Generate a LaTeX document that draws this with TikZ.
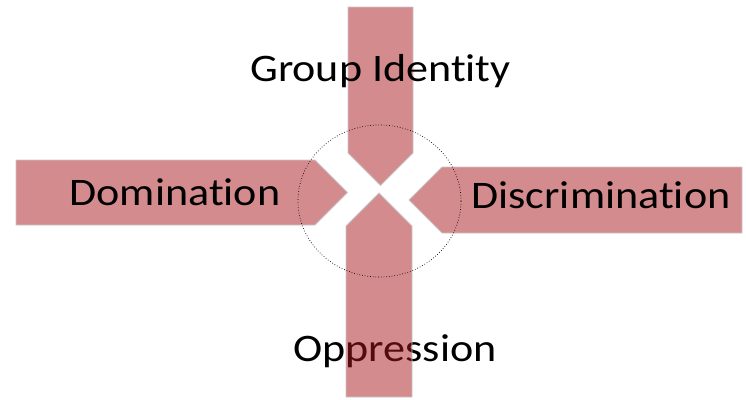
\documentclass[tikz,border=0pt]{standalone}
\usepackage{fontspec}
\setmainfont[Ligatures=NoCommon]{Carlito}
\usetikzlibrary{shapes.geometric}
\definecolor{arrowred}{RGB}{169,23,27}
\tikzset{
  arrowshape/.style={fill=arrowred, fill opacity=0.5, draw=black!22, line width=0.9pt, line join=miter},
  label/.style={font=\fontsize{39}{44}\selectfont, anchor=base, inner sep=0pt, text=black, xscale=1.13},
}
\begin{document}
\begin{tikzpicture}[x=1pt,y=-1pt]
\useasboundingbox (0,0) rectangle (746,399);
% text behind the bottom arrow
\node[label] (opp) at (395,361) {Oppression};
% arrows
\draw[arrowshape] (348,7) -- (413,7) -- (413,153) -- (380.5,185.5) -- (348,153) -- cycle;
\draw[arrowshape] (346,397) -- (412,397) -- (412,226) -- (379,193) -- (346,226) -- cycle;
\draw[arrowshape] (16,160) -- (315,160) -- (347.5,192.5) -- (315,225) -- (16,225) -- cycle;
\draw[arrowshape] (742,167) -- (442,167) -- (409,200) -- (442,233) -- (742,233) -- cycle;
% labels on top
\node[label] (gid) at (380.5,81) {Group Identity};
\node[label] (dom) at (175,205) {Domination};
\node[label] (dis) at (601,208) {Discrimination};
% dotted ellipse
\node[draw=black, dotted, line width=0.7pt, ellipse, minimum width=163pt, minimum height=152pt, inner sep=0pt] (ring) at (379.5,201) {};
\end{tikzpicture}
\end{document}
